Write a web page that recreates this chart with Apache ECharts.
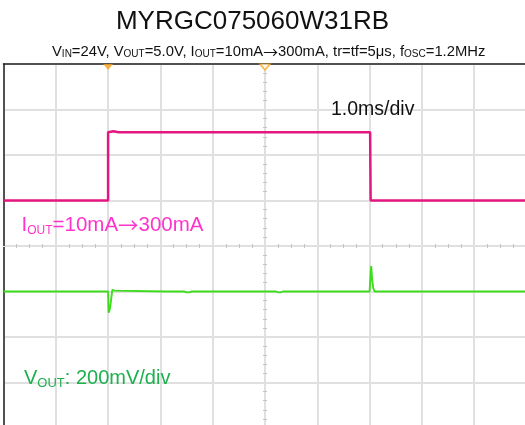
<!DOCTYPE html>
<html>
<head>
<meta charset="utf-8">
<script src="https://cdn.jsdelivr.net/npm/echarts@6/dist/echarts.min.js"></script>
<style>html,body{margin:0;padding:0;background:#fff;}#c{width:525px;height:425px;}</style>
</head>
<body>
<div id="c"></div>
<script>
// Scope screen in divisions: time -5..5 div (1.0 ms/div), vertical -4..4 div
const xRange = [-5, 5];
const yRange = [-4, 4];
// I_OUT trace (division units)
const ioutTrace = [[-5, 1.0], [-3.0, 1.0], [-3.0, 2.5], [-2.9, 2.52], [-2.8, 2.5], [2.01, 2.5], [2.02, 1.0], [5, 1.0]];
// V_OUT trace (division units)
const voutTrace = [
  [-5.0, -1.0], [-4.82, -1.0], [-4.8, -1.04], [-4.78, -1.0], [-4.53, -1.0], [-4.51, -1.03], [-4.49, -1.0],
  [-4.04, -1.0], [-4.02, -1.04], [-4.0, -1.0], [-3.77, -1.0], [-3.75, -1.03], [-3.73, -1.0],
  [-3.56, -1.0], [-3.54, -1.04], [-3.52, -1.0], [-3.32, -1.0], [-3.30, -1.03], [-3.28, -1.0],
  [-3.0, -1.0], [-2.99, -1.466], [-2.97, -1.40], [-2.95, -1.25], [-2.92, -0.967], [-2.90, -0.945],
  [-2.87, -0.98], [-2.84, -1.0], [-1.89, -1.0], [-1.87, -1.02], [-1.85, -1.0], [-1.55, -1.0], [-1.50, -1.02],
  [-1.45, -1.02], [-1.40, -1.0], [-1.11, -1.0], [-1.09, -1.02], [-1.07, -1.0], [-0.88, -1.0], [-0.86, -1.02],
  [-0.84, -1.0], [-0.31, -1.0], [-0.29, -1.02], [-0.27, -1.0], [-0.12, -1.0], [-0.10, -1.02], [-0.08, -1.0],
  [0.21, -1.0], [0.25, -1.02], [0.30, -1.02], [0.34, -1.0], [1.41, -1.0], [1.43, -1.02], [1.45, -1.0],
  [2.00, -1.0], [2.02, -0.60], [2.03, -0.44], [2.05, -0.75], [2.07, -0.93], [2.10, -1.0],
  [2.38, -1.0], [2.40, -1.03], [2.42, -1.0], [2.48, -1.0], [2.50, -1.03], [2.52, -1.0],
  [2.70, -1.0], [2.72, -1.03], [2.74, -1.0], [2.85, -1.0], [2.87, -1.03], [2.89, -1.0],
  [2.94, -1.0], [2.96, -1.03], [2.98, -1.0], [3.04, -1.0], [3.06, -1.03], [3.08, -1.0],
  [3.54, -1.0], [3.56, -1.03], [3.58, -1.0], [3.64, -1.0], [3.66, -1.03], [3.68, -1.0],
  [4.41, -1.0], [4.43, -1.03], [4.45, -1.0], [4.62, -1.0], [4.64, -1.03], [4.66, -1.0],
  [4.71, -1.0], [4.73, -1.03], [4.75, -1.0], [5.0, -1.0]
];
// Trigger markers along the top edge
const triggerFilled = [[-3, 4]];
const triggerOutline = [[0, 4]];

const titleText = 'MYRGC075060W31RB';
const subtitleText = 'V{s|IN}=24V, V{s|OUT}=5.0V, I{s|OUT}=10mA{a|→}300mA, tr=tf=5μs, f{s|OSC}=1.2MHz';
const timeDivText = '1.0ms/div';
const ioutLabel = 'I{s|OUT}=10mA{a|→}300mA';
const voutLabel = 'V{s|OUT}: 200mV/div';

const FONT = 'Liberation Sans, Arial, sans-serif';
const ARROW_FONT = 'Noto Sans CJK JP, DejaVu Sans, sans-serif';
const GRID = '#e0e0e0';
const TICK = '#c4c4c4';
const PINK = '#e3177f';
const PINK_TXT = '#ff33cc';
const GREEN = '#3ddc1c';
const GREEN_TXT = '#1db04e';
const ORANGE = '#f7a21b';

const chart = echarts.init(document.getElementById('c'), null, {renderer: 'canvas'});

function centerX(inside) {
  return {
    type: 'value', min: xRange[0], max: xRange[1], interval: 1, position: 'bottom',
    axisLine: {show: true, onZero: true, lineStyle: {color: GRID, width: 1}},
    axisTick: {show: false, inside: inside}, axisLabel: {show: false},
    minorTick: {show: true, splitNumber: 4, length: 2, lineStyle: {color: TICK, width: 1}},
    splitLine: {show: false}
  };
}
function centerY(inside) {
  return {
    type: 'value', min: yRange[0], max: yRange[1], interval: 1, position: 'left',
    axisLine: {show: true, onZero: true, lineStyle: {color: GRID, width: 1}},
    axisTick: {show: false, inside: inside}, axisLabel: {show: false},
    minorTick: {show: true, splitNumber: 5, length: 2, lineStyle: {color: TICK, width: 1}},
    splitLine: {show: false}
  };
}

const xA = centerX(false);
xA.splitLine = {show: true, lineStyle: {color: GRID, width: 2}};
const yA = centerY(false);
yA.splitLine = {show: true, lineStyle: {color: GRID, width: 2}};

const option = {
  animation: false,
  backgroundColor: '#fff',
  grid: {left: 3.5, top: 64, width: 523, height: 364, containLabel: false, outerBoundsMode: 'none'},
  xAxis: [
    xA,
    centerX(true),
    {type: 'value', min: xRange[0], max: xRange[1], position: 'top',
     axisLine: {show: true, onZero: false, lineStyle: {color: '#222', width: 1.5}},
     axisTick: {show: false}, axisLabel: {show: false}, splitLine: {show: false}}
  ],
  yAxis: [
    yA,
    centerY(true),
    {type: 'value', min: yRange[0], max: yRange[1], position: 'left',
     axisLine: {show: true, onZero: false, lineStyle: {color: '#222', width: 1.5}},
     axisTick: {show: false}, axisLabel: {show: false}, splitLine: {show: false}}
  ],
  series: [
    {type: 'line', data: ioutTrace, xAxisIndex: 0, yAxisIndex: 0, showSymbol: false,
     lineStyle: {color: PINK, width: 2.5}, z: 5},
    {type: 'line', data: voutTrace, xAxisIndex: 0, yAxisIndex: 0, showSymbol: false,
     lineStyle: {color: GREEN, width: 1.9}, z: 5},
    {type: 'scatter', data: triggerFilled, xAxisIndex: 0, yAxisIndex: 0, clip: false,
     symbol: 'triangle', symbolRotate: 180, symbolSize: [10, 6], symbolOffset: [0, 3],
     itemStyle: {color: ORANGE}, z: 6},
    {type: 'scatter', data: triggerOutline, xAxisIndex: 0, yAxisIndex: 0, clip: false,
     symbol: 'triangle', symbolRotate: 180, symbolSize: [10, 6], symbolOffset: [0, 3],
     itemStyle: {color: '#fff', borderColor: ORANGE, borderWidth: 1.5}, z: 6}
  ],
  graphic: [
    {type: 'text', z: 100, x: 252.5, y: 22, style: {text: titleText, fill: '#111', font: '26px ' + FONT,
      align: 'center', verticalAlign: 'middle'}},
    {type: 'text', z: 100, x: 52, y: 52, style: {text: subtitleText, fill: '#111', fontSize: 14.8, fontFamily: FONT,
      align: 'left', verticalAlign: 'middle', lineHeight: 15,
      rich: {
        s: {fontSize: 10, fontFamily: FONT, lineHeight: 10, verticalAlign: 'bottom', fill: '#111'},
        a: {fontSize: 14.8, fontFamily: ARROW_FONT, lineHeight: 15, fill: '#111'}
      }}},
    {type: 'text', z: 100, x: 331, y: 110, style: {text: timeDivText, fill: '#111', font: '19.5px ' + FONT,
      align: 'left', verticalAlign: 'middle'}},
    {type: 'text', z: 100, x: 21.5, y: 225, style: {text: ioutLabel, fill: PINK_TXT, fontSize: 20.5, fontFamily: FONT,
      align: 'left', verticalAlign: 'middle', lineHeight: 24,
      rich: {
        s: {fontSize: 12, fontFamily: FONT, lineHeight: 14, verticalAlign: 'bottom', fill: PINK_TXT},
        a: {fontSize: 20.5, fontFamily: ARROW_FONT, lineHeight: 24, fill: PINK_TXT}
      }}},
    {type: 'text', z: 100, x: 24, y: 378, style: {text: voutLabel, fill: GREEN_TXT, fontSize: 20, fontFamily: FONT,
      align: 'left', verticalAlign: 'middle', lineHeight: 24,
      rich: {s: {fontSize: 13, fontFamily: FONT, lineHeight: 14, verticalAlign: 'bottom', fill: GREEN_TXT}}}}
  ]
};
chart.setOption(option);
</script>
</body>
</html>
